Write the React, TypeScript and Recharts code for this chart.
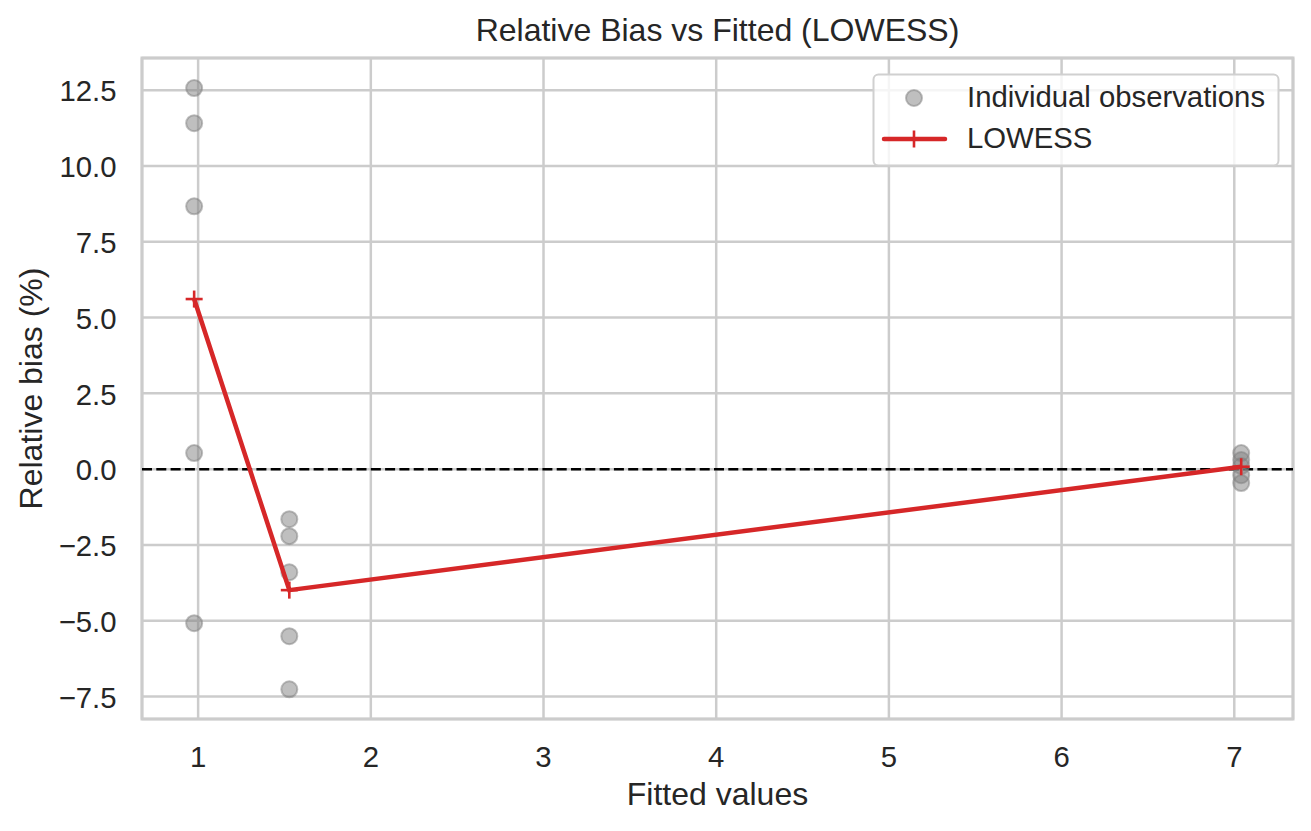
import React from 'react';
import {
  ComposedChart,
  Scatter,
  XAxis,
  YAxis,
  CartesianGrid,
  ReferenceLine,
  ReferenceArea,
} from 'recharts';

// Individual observations
const obsFitted = [
  0.977, 0.977, 0.977, 0.977, 0.977,
  1.528, 1.528, 1.528, 1.528, 1.528,
  7.04, 7.04, 7.04, 7.04, 7.04,
];
const obsBias = [
  12.57, 11.41, 8.67, 0.53, -5.08,
  -1.65, -2.21, -3.4, -5.51, -7.26,
  0.53, 0.3, 0.1, -0.2, -0.46,
];

// LOWESS curve
const lowessFitted = [0.977, 1.528, 7.04];
const lowessBias = [5.61, -3.99, 0.08];

const xTicks = [1, 2, 3, 4, 5, 6, 7];
const yTicks = [-7.5, -5, -2.5, 0, 2.5, 5, 7.5, 10, 12.5];
const xDomain: [number, number] = [0.675, 7.34];
const yDomain: [number, number] = [-8.24, 13.56];

const obsData = obsFitted.map((x, i) => ({ x, y: obsBias[i] }));
const lowessData = lowessFitted.map((x, i) => ({ x, y: lowessBias[i] }));

const FONT = '"Liberation Sans", Arial, Helvetica, sans-serif';
const TEXT = '#262626';
const GRID = '#cccccc';
const RED = '#d62728';

const fmtY = (v: number) => v.toFixed(1).replace('-', '\u2212');

const XTick = (props: any) => {
  const { x, y, payload } = props;
  return (
    <text x={x} y={y + 48} textAnchor="middle" fill={TEXT} fontSize={29.3} fontFamily={FONT}>
      {String(payload.value)}
    </text>
  );
};

const YTick = (props: any) => {
  const { x, y, payload } = props;
  return (
    <text x={x - 25.5} y={y + 11.2} textAnchor="end" fill={TEXT} fontSize={29.3} fontFamily={FONT}>
      {fmtY(payload.value)}
    </text>
  );
};

const ObsDot = (props: any) => {
  const { cx, cy } = props;
  if (cx == null || cy == null) return <g />;
  return (
    <circle
      cx={cx}
      cy={cy}
      r={8}
      fill="#808080"
      fillOpacity={0.5}
      stroke="#808080"
      strokeOpacity={0.5}
      strokeWidth={2}
    />
  );
};

const Cross = (props: any) => {
  const { cx, cy } = props;
  if (cx == null || cy == null) return <g />;
  return (
    <g>
      <line x1={cx - 8.5} y1={cy} x2={cx + 8.5} y2={cy} stroke={RED} strokeWidth={2.6} />
      <line x1={cx} y1={cy - 8.5} x2={cx} y2={cy + 8.5} stroke={RED} strokeWidth={2.6} />
    </g>
  );
};

export default function App() {
  return (
    <div
      style={{
        position: 'absolute',
        left: 0,
        top: 0,
        width: 1311,
        height: 831,
        background: '#ffffff',
        fontFamily: FONT,
      }}
    >
      <ComposedChart
        width={1311}
        height={831}
        margin={{ top: 58, right: 18, bottom: 52, left: 62 }}
      >
        <CartesianGrid stroke={GRID} strokeWidth={2.5} />
        <XAxis
          type="number"
          dataKey="x"
          domain={xDomain}
          ticks={xTicks}
          allowDataOverflow
          height={60}
          axisLine={false}
          tickLine={false}
          tickSize={0}
          tickMargin={0}
          tick={<XTick />}
          interval={0}
        />
        <YAxis
          type="number"
          dataKey="y"
          domain={yDomain}
          ticks={yTicks}
          allowDataOverflow
          width={80}
          axisLine={false}
          tickLine={false}
          tickSize={0}
          tickMargin={0}
          tick={<YTick />}
          interval={0}
        />
        <Scatter
          name="Individual observations"
          data={obsData}
          shape={<ObsDot />}
          isAnimationActive={false}
        />
        <ReferenceLine
          y={0}
          stroke="#000000"
          strokeWidth={2.5}
          strokeDasharray="10 4.3"
          ifOverflow="visible"
        />
        <Scatter
          name="LOWESS"
          data={lowessData}
          shape={<Cross />}
          line={{ stroke: RED, strokeWidth: 4.5 }}
          lineType="joint"
          isAnimationActive={false}
        />
        <ReferenceArea
          x1={xDomain[0]}
          x2={xDomain[1]}
          y1={yDomain[0]}
          y2={yDomain[1]}
          fill="none"
          fillOpacity={0}
          stroke={GRID}
          strokeWidth={3}
          ifOverflow="visible"
        />
      </ComposedChart>
      <svg
        width={1311}
        height={831}
        style={{ position: 'absolute', left: 0, top: 0, pointerEvents: 'none' }}
      >
        <text x={717.5} y={41} textAnchor="middle" fontSize={32} fill={TEXT} fontFamily={FONT}>
          Relative Bias vs Fitted (LOWESS)
        </text>
        <text x={717.5} y={805} textAnchor="middle" fontSize={32} fill={TEXT} fontFamily={FONT}>
          Fitted values
        </text>
        <text
          x={0}
          y={0}
          transform="translate(42,388.5) rotate(-90)"
          textAnchor="middle"
          fontSize={32}
          fill={TEXT}
          fontFamily={FONT}
        >
          Relative bias (%)
        </text>
        <g>
          <rect
            x={873.5}
            y={74.5}
            width={405}
            height={91}
            rx={5}
            fill="#ffffff"
            fillOpacity={0.8}
            stroke="#d0d0d0"
            strokeWidth={2}
          />
          <circle
            cx={914}
            cy={98}
            r={8}
            fill="#808080"
            fillOpacity={0.5}
            stroke="#808080"
            strokeOpacity={0.5}
            strokeWidth={2}
          />
          <text x={967} y={107.3} fontSize={29.3} fill={TEXT} fontFamily={FONT}>
            Individual observations
          </text>
          <line x1={884} y1={139} x2={945} y2={139} stroke={RED} strokeWidth={4.5} strokeLinecap="round" />
          <line x1={914} y1={130.5} x2={914} y2={147.5} stroke={RED} strokeWidth={2.6} />
          <text x={967} y={148.3} fontSize={29.3} fill={TEXT} fontFamily={FONT}>
            LOWESS
          </text>
        </g>
      </svg>
    </div>
  );
}
